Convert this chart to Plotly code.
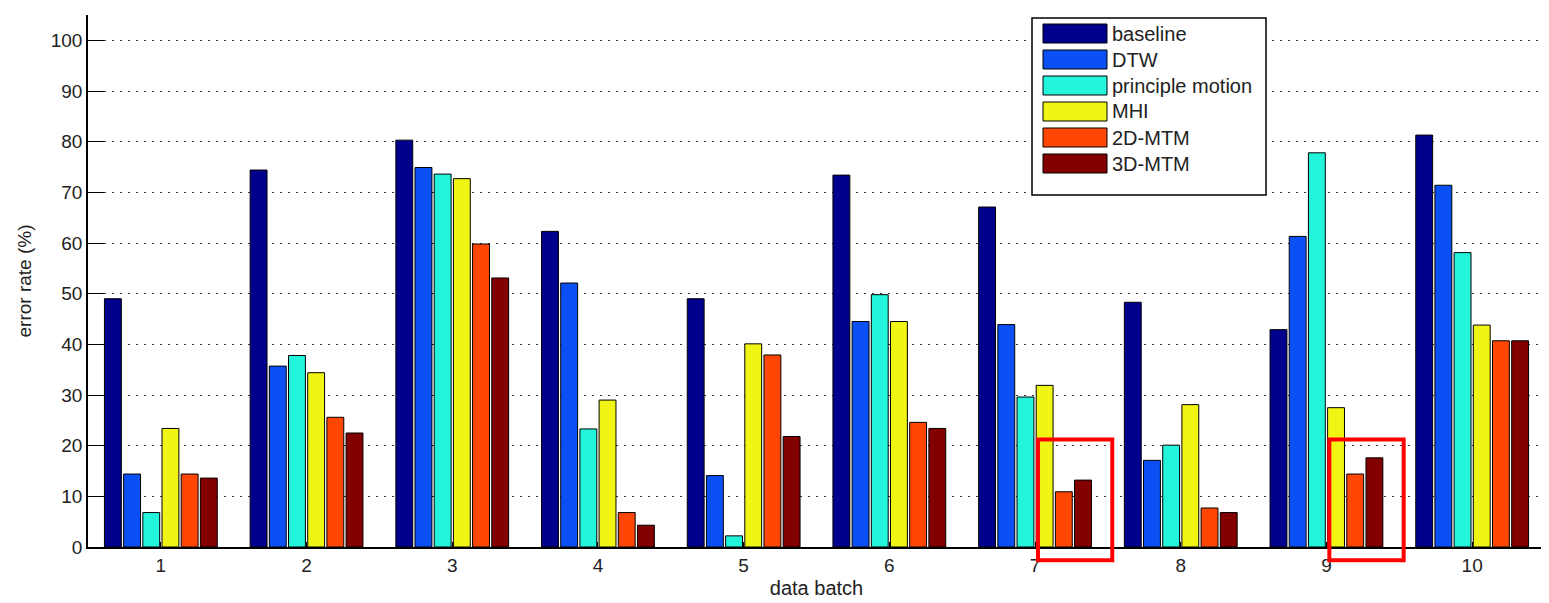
import plotly.graph_objects as go

batches = [1, 2, 3, 4, 5, 6, 7, 8, 9, 10]
series_names = ["baseline", "DTW", "principle motion", "MHI", "2D-MTM", "3D-MTM"]
baseline = [49.0, 74.4, 80.3, 62.3, 49.0, 73.4, 67.1, 48.3, 42.9, 81.3]
dtw = [14.4, 35.7, 74.9, 52.1, 14.1, 44.5, 43.9, 17.1, 61.3, 71.4]
principle_motion = [6.8, 37.8, 73.6, 23.3, 2.2, 49.8, 29.6, 20.1, 77.8, 58.1]
mhi = [23.4, 34.4, 72.7, 29.0, 40.1, 44.5, 31.9, 28.1, 27.5, 43.8]
mtm2d = [14.4, 25.6, 59.8, 6.8, 37.9, 24.6, 10.9, 7.7, 14.4, 40.7]
mtm3d = [13.6, 22.5, 53.1, 4.3, 21.8, 23.4, 13.2, 6.8, 17.6, 40.7]
colors = ["#00008c", "#0a50f5", "#22f5dc", "#f0f514", "#ff4605", "#820000"]
all_series = [baseline, dtw, principle_motion, mhi, mtm2d, mtm3d]
highlight_batches = [7, 9]

OFF = 8  # default page body margin
W, H = 1549 - OFF, 603 - OFF
ML, MR, MT, MB = 80, 4, 7, 56
PW, PH = W - ML - MR, H - MT - MB
XR = [0.5, 10.5]
YR = [0, 105]
FONT = "Liberation Sans"

def px(x):
    # screenshot pixel x -> paper
    return (x - OFF - ML) / PW

def py(y):
    # screenshot pixel y -> paper
    return (H - MB - (y - OFF)) / PH

def dx(v):
    return (v - XR[0]) / (XR[1] - XR[0])

def dy(v):
    return (v - YR[0]) / (YR[1] - YR[0])

fig = go.Figure()
for name, vals, col in zip(series_names, all_series, colors):
    fig.add_trace(go.Bar(x=batches, y=vals, name=name, marker_color=col,
                         marker_line=dict(color="black", width=1), showlegend=False))

shapes = []
annotations = []
# custom legend (matlab style)
shapes.append(dict(type="rect", xref="paper", yref="paper", x0=px(1032), x1=px(1266),
                   y0=py(195), y1=py(18), line=dict(color="black", width=1.5),
                   fillcolor="white", layer="above"))
for i, (name, col) in enumerate(zip(series_names, colors)):
    top = 24 + 26 * i
    shapes.append(dict(type="rect", xref="paper", yref="paper", x0=px(1043), x1=px(1107),
                       y0=py(top + 19), y1=py(top), fillcolor=col,
                       line=dict(color="black", width=1), layer="above"))
    annotations.append(dict(xref="paper", yref="paper", x=px(1110), y=py(top + 9.5),
                            text=name, showarrow=False, xanchor="left", yanchor="middle",
                            font=dict(size=20, color="#222", family=FONT)))

# red highlight boxes (drawn in paper space so they may extend below the axis)
for xc in highlight_batches:
    shapes.append(dict(type="rect", xref="paper", yref="paper",
                       x0=dx(xc + 0.02), x1=dx(xc + 0.53),
                       y0=dy(-2.6), y1=dy(21.2), line=dict(color="#ff0000", width=4),
                       fillcolor="rgba(0,0,0,0)", layer="above"))

fig.update_layout(
    width=W, height=H,
    margin=dict(l=ML, r=MR, t=MT, b=MB),
    barmode="group", bargap=0.21, bargroupgap=0.12,
    plot_bgcolor="white", paper_bgcolor="white",
    font=dict(family=FONT, size=19, color="#222"),
    shapes=shapes, annotations=annotations,
    xaxis=dict(range=XR, tickvals=batches, ticktext=[str(b) for b in batches],
               showgrid=False, zeroline=False, showline=True, linecolor="black", linewidth=1.5,
               ticks="inside", ticklen=5, tickcolor="black", automargin=False,
               tickfont=dict(size=19),
               title=dict(text="data batch", font=dict(size=20), standoff=6)),
    yaxis=dict(range=YR, tickvals=list(range(0, 101, 10)),
               showgrid=True, gridcolor="#333", griddash="2px,6px", gridwidth=1,
               zeroline=False, showline=True, linecolor="black", linewidth=1.5,
               ticks="inside", ticklen=16, tickcolor="black", automargin=False,
               tickfont=dict(size=19),
               title=dict(text="error rate (%)", font=dict(size=19), standoff=14)),
)

fig.write_html("out.html")
